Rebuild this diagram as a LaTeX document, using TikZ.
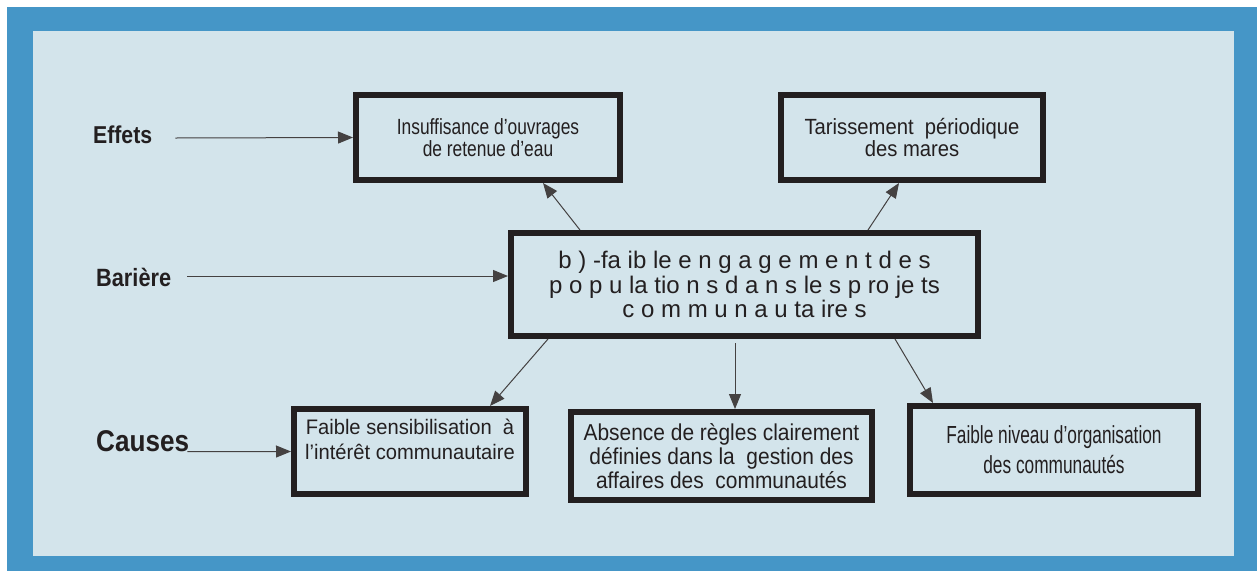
\documentclass[tikz,border=0pt]{standalone}
\usepackage{fontspec}
\setmainfont{Liberation Sans}
\usetikzlibrary{arrows.meta}
\definecolor{frameblue}{HTML}{4596C7}
\definecolor{panel}{HTML}{D3E4EB}
\definecolor{ink}{HTML}{231F20}

\begin{document}
\begin{tikzpicture}[x=1pt,y=-1pt,
  box/.style args={#1/#2/#3}{draw=ink, line width=6pt, fill=panel, inner sep=0pt, align=center, text=ink,
    font={\fontsize{#1}{#2}\selectfont\addfontfeatures{FakeStretch=#3}}},
  tag/.style={inner sep=0pt, text=ink, anchor=base west,
    font={\fontsize{#1}{#1}\selectfont\bfseries\addfontfeatures{FakeStretch=0.87}}},
  link/.style={draw=ink!85, line width=1pt, -{Triangle[length=15pt,width=12pt]}}]
\useasboundingbox (0,0) rectangle (1260,571);
\fill[frameblue] (7,7) rectangle (1257,571);
\fill[panel] (33,31) rectangle (1234,556);

% rows
\node[tag=24.4] (effets) at (93,143) {Effets};
\node[tag=25] (bariere) at (96,286) {Barière};
\node[tag=30] (causes) at (96,451.6) {Causes};

% effets
\node[box=22/22/0.79, minimum width=264pt, minimum height=85pt] (insuff) at (488,137.5)
  {Insuffisance d'ouvrages\\de retenue d'eau};
\node[box=22/22/0.92, minimum width=262pt, minimum height=85pt] (tariss) at (912,137.5)
  {Tarissement\ \ périodique\\des mares};

% barriere
\node[box=24/24.5/1, minimum width=467pt, minimum height=103pt] (barrier) at (744.5,284.5)
  {b ) -fa ib le e n g a g e m e n t d e s\\p o p u la tio n s d a n s le s p ro je ts\\c o m m u n a u ta ire s};

% causes
\node[box=21/25/0.96, minimum width=232pt, minimum height=85pt] (sensib) at (410,451.5)
  {Faible sensibilisation\ \ à\\l'intérêt communautaire\\\mbox{}};
\node[box=23/24/0.91, minimum width=301pt, minimum height=88pt] (regles) at (721.5,456)
  {Absence de règles clairement\\définies dans la\ \ gestion des\\affaires des\ \ communautés};
\node[box=24.7/30/0.70, minimum width=288pt, minimum height=88pt] (organ) at (1054,450)
  {Faible niveau d'organisation\\des communautés};

\draw[link] ([xshift=23pt,yshift=5pt]effets.base east) -- (insuff.west);
\draw[link] ([xshift=16pt,yshift=10pt]bariere.base east) -- ([yshift=8.5pt]barrier.west);
\draw[link] ([xshift=-2pt]causes.base east) -- (sensib.west);

\draw[link] ([xshift=72pt]barrier.north west) -- ([xshift=190pt]insuff.south west);
\draw[link] ([xshift=360pt]barrier.north west) -- ([xshift=121pt]tariss.south west);
\draw[link] ([xshift=40pt]barrier.south west) -- ([xshift=199pt]sensib.north west);
\draw[link] ([xshift=227pt,yshift=-4pt]barrier.south west) -- ([xshift=167pt]regles.north west);
\draw[link] ([xshift=387pt]barrier.south west) -- ([xshift=26pt]organ.north west);
\end{tikzpicture}
\end{document}
